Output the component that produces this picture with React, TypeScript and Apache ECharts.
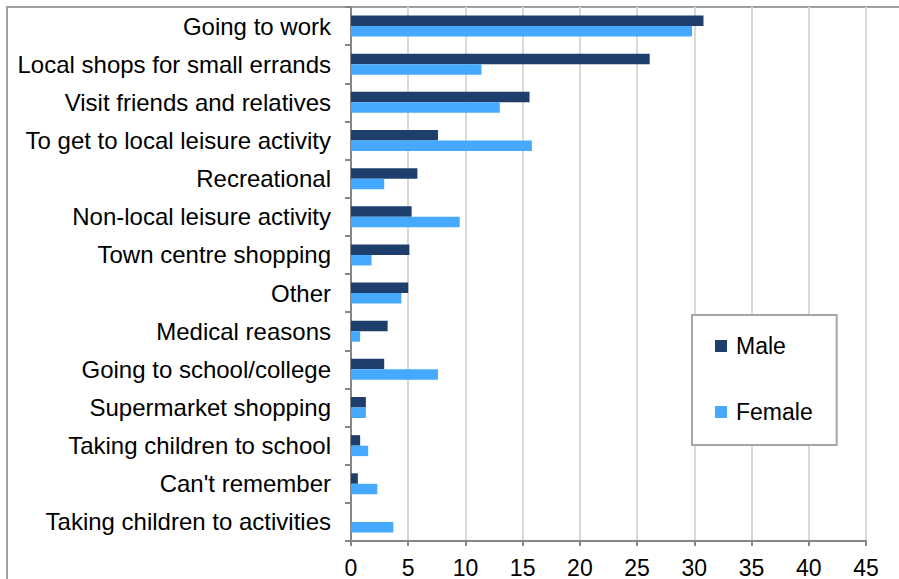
import { useEffect, useRef } from "react";
import * as echarts from "echarts";

const CATEGORIES = [
  "Going to work",
  "Local shops for small errands",
  "Visit friends and relatives",
  "To get to local leisure activity",
  "Recreational",
  "Non-local leisure activity",
  "Town centre shopping",
  "Other",
  "Medical reasons",
  "Going to school/college",
  "Supermarket shopping",
  "Taking children to school",
  "Can't remember",
  "Taking children to activities",
];
const MALE = [30.8, 26.1, 15.6, 7.6, 5.8, 5.3, 5.1, 5.0, 3.2, 2.9, 1.3, 0.8, 0.6, 0];
const FEMALE = [29.8, 11.4, 13.0, 15.8, 2.9, 9.5, 1.8, 4.4, 0.8, 7.6, 1.3, 1.5, 2.3, 3.7];

const FONT = "'Liberation Sans', Arial, sans-serif";
const AXIS_GRAY = "#868686";

export default function App() {
  const chartRef = useRef<HTMLDivElement>(null);

  useEffect(() => {
    if (!chartRef.current) return;
    const chart = echarts.init(chartRef.current, undefined, { renderer: "svg" });
    chart.setOption({
      animation: false,
      backgroundColor: "#ffffff",
      textStyle: { fontFamily: FONT },
      grid: { left: 351, top: 7, right: 33, bottom: 37 },
      graphic: [
        {
          type: "rect",
          shape: { x: 7, y: 7, width: 1000, height: 1000 },
          style: { fill: "none", stroke: "#a0a0a0", lineWidth: 2 },
          z: -1,
        },
      ],
      legend: {
        orient: "vertical",
        left: 692,
        top: 315,
        padding: [19, 24, 21, 23],
        itemGap: 42,
        itemWidth: 12,
        itemHeight: 12,
        icon: "rect",
        backgroundColor: "#ffffff",
        borderColor: "#a6a6a6",
        borderWidth: 2,
        textStyle: { fontSize: 23, color: "#000", fontFamily: FONT, lineHeight: 24, padding: [0, 0, 0, 4] },
        data: ["Male", "Female"],
      },
      xAxis: {
        type: "value",
        min: 0,
        max: 45,
        interval: 5,
        axisLine: { show: true, lineStyle: { color: AXIS_GRAY, width: 2 } },
        axisTick: { show: true, length: 5, lineStyle: { color: AXIS_GRAY, width: 2 } },
        axisLabel: { fontSize: 23, color: "#000", margin: 15, fontFamily: FONT },
        splitLine: { show: true, lineStyle: { color: "#d9d9d9", width: 2 } },
      },
      yAxis: {
        type: "category",
        inverse: true,
        data: CATEGORIES,
        axisLine: { show: true, lineStyle: { color: AXIS_GRAY, width: 2 } },
        axisTick: { show: true, length: 6, lineStyle: { color: AXIS_GRAY, width: 2 } },
        axisLabel: { fontSize: 24, color: "#000", margin: 20, fontFamily: FONT },
        splitLine: { show: false },
      },
      series: [
        {
          name: "Male",
          type: "bar",
          data: MALE,
          barGap: "0%",
          barCategoryGap: "45%",
          itemStyle: { color: "#1e3f6b" },
        },
        {
          name: "Female",
          type: "bar",
          data: FEMALE,
          barGap: "0%",
          barCategoryGap: "45%",
          itemStyle: { color: "#45aaff" },
        },
      ],
    });
    return () => chart.dispose();
  }, []);

  return (
    <div
      ref={chartRef}
      style={{ position: "fixed", left: 0, top: 0, width: 899, height: 579 }}
    />
  );
}
